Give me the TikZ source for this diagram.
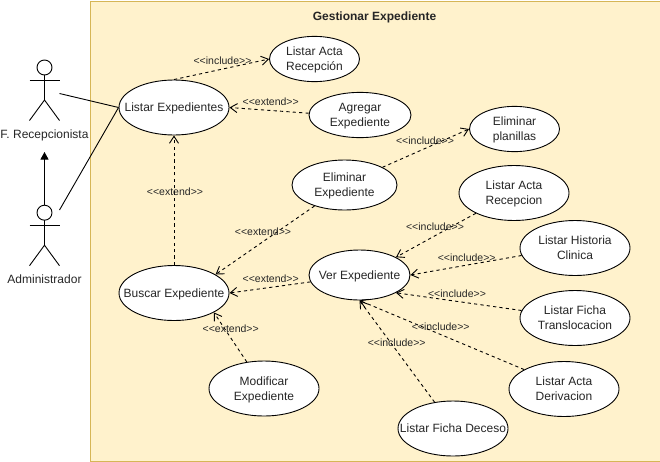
\documentclass[tikz,border=0pt]{standalone}
\usepackage{fontspec}
\setmainfont{Liberation Sans}
\usetikzlibrary{shapes.geometric,arrows.meta}
\newcommand{\uctxt}[1]{\vbox{\kern2pt\hbox{\makebox[0pt]{\begin{tabular}{@{}c@{}}#1\end{tabular}}}}}
\newcommand{\inc}{{<}{<}include{>}{>}}
\newcommand{\ext}{{<}{<}extend{>}{>}}
\tikzset{
  uc/.style={ellipse,draw=black,fill=white,line width=0.9pt,inner sep=0pt,font=\fontsize{12}{15}\selectfont,text=black!85},
  rel/.style={draw=black,line width=0.9pt,dash pattern=on 3.2pt off 3.2pt,-{Straight Barb[length=7pt,width=9pt,line width=0.9pt]}},
  lab/.style={font=\fontsize{10.5}{12}\selectfont,text=black!85,inner sep=0pt,yshift=-1pt},
  act/.style={font=\fontsize{12}{14}\selectfont,text=black!85,inner sep=0pt,yshift=-1pt},
  lim/.style={draw=black,line width=0.9pt}
}
\begin{document}
\begin{tikzpicture}[x=1pt,y=-1pt]
\useasboundingbox (0,0) rectangle (660,461);
\node[draw={rgb,255:red,214;green,182;blue,86},fill={rgb,255:red,255;green,242;blue,204},line width=0.9pt,minimum width=570pt,minimum height=460pt,inner sep=0pt,anchor=north west] (frame) at (89.5,0.5) {};
\node[font=\bfseries\fontsize{12}{14}\selectfont,text=black!85,inner sep=0pt] (title) at (374.5,17.5) {Gestionar Expediente};

% actors
\foreach \n/\cx/\cy in {fr/44.5/67.5, ad/44.5/212.7}{
  \coordinate (\n n) at (\cx,\cy+7.5);
  \coordinate (\n w) at (\cx,\cy+32.5);
  \coordinate (\n l) at (\cx-15,\cy+12.5);
  \coordinate (\n r) at (\cx+15,\cy+12.5);
  \coordinate (\n a) at (\cx-15,\cy+53);
  \coordinate (\n b) at (\cx+15,\cy+53);
  \draw[lim] (\n n) -- (\n w);
  \draw[lim] (\n l) -- (\n r);
  \draw[lim] (\n a) -- (\n w) -- (\n b);
  \node[circle,draw=black,fill=white,line width=0.9pt,minimum size=15pt,inner sep=0pt] (\n h) at (\cx,\cy) {};
}
\node[act] (frl) at (44.5,134) {F. Recepcionista};
\node[act] (adl) at (44.5,278) {Administrador};

% use cases
\node[uc,minimum width=110pt,minimum height=55pt] (le) at (174,107.5) {\uctxt{Listar Expedientes}};
\node[uc,minimum width=90pt,minimum height=38pt] (la) at (314.5,59) {\uctxt{Listar Acta\\Recepción}};
\node[uc,minimum width=102pt,minimum height=40pt] (ag) at (360,115) {\uctxt{Agregar\\Expediente}};
\node[uc,minimum width=90pt,minimum height=38pt] (ep) at (514.5,129) {\uctxt{Eliminar\\planillas}};
\node[uc,minimum width=105pt,minimum height=50pt] (ee) at (344.5,185) {\uctxt{Eliminar\\Expediente}};
\node[uc,minimum width=110pt,minimum height=55pt] (lr) at (514,193) {\uctxt{Listar Acta\\Recepcion}};
\node[uc,minimum width=110pt,minimum height=55pt] (lh) at (575,248) {\uctxt{Listar Historia\\Clinica}};
\node[uc,minimum width=101pt,minimum height=50pt] (ve) at (359.5,275) {\uctxt{Ver Expediente}};
\node[uc,minimum width=110pt,minimum height=55pt] (be) at (174,293) {\uctxt{Buscar Expediente}};
\node[uc,minimum width=110pt,minimum height=55pt] (lt) at (575,318) {\uctxt{Listar Ficha\\Translocacion}};
\node[uc,minimum width=110pt,minimum height=55pt] (ld) at (564,389) {\uctxt{Listar Acta\\Derivacion}};
\node[uc,minimum width=110pt,minimum height=55pt] (lf) at (453,428.5) {\uctxt{Listar Ficha Deceso}};
\node[uc,minimum width=110pt,minimum height=55pt] (me) at (264,388.5) {\uctxt{Modificar\\Expediente}};

% associations
\coordinate (fra) at (59.5,93.5);
\coordinate (ada) at (59.5,210);
\draw[lim] (fra) -- (le.west);
\draw[lim] (ada) -- (le.west);
\coordinate (gentip) at (44.5,152);
\draw[draw=black,line width=0.9pt,-{Triangle[length=7.5pt,width=8pt]}] (adh.north) -- (gentip);

% relations
\draw[rel] (le.90) -- (la.west);
\draw[rel] (ag.178) -- (le.east);
\draw[rel] (be.north) -- (le.south);
\draw[rel] (ee.25) -- (ep.west);
\draw[rel] (ee.215) -- (be.24);
\draw[rel] (ve.188) -- (be.east);
\draw[rel] (me.123) -- (be.-26);
\draw[rel] (lr.208) -- (ve.26);
\draw[rel] (lh.188) -- (ve.east);
\draw[rel] (lt.172) -- (ve.-26);
\draw[rel] (ld.154) -- (ve.south);
\draw[rel] (lf.125) -- (ve.south);

% labels
\node[lab] (l1) at (222.5,60) {\inc};
\node[lab] (l2) at (270.7,101) {\ext};
\node[lab] (l3) at (425,140) {\inc};
\node[lab] (l4) at (175,191) {\ext};
\node[lab] (l5) at (263,231) {\ext};
\node[lab] (l6) at (270.7,278) {\ext};
\node[lab] (l7) at (230.7,328) {\ext};
\node[lab] (l8) at (435,226) {\inc};
\node[lab] (l9) at (466.7,257) {\inc};
\node[lab] (l10) at (457,293) {\inc};
\node[lab] (l11) at (440.7,326) {\inc};
\node[lab] (l12) at (396.7,342) {\inc};
\end{tikzpicture}
\end{document}
